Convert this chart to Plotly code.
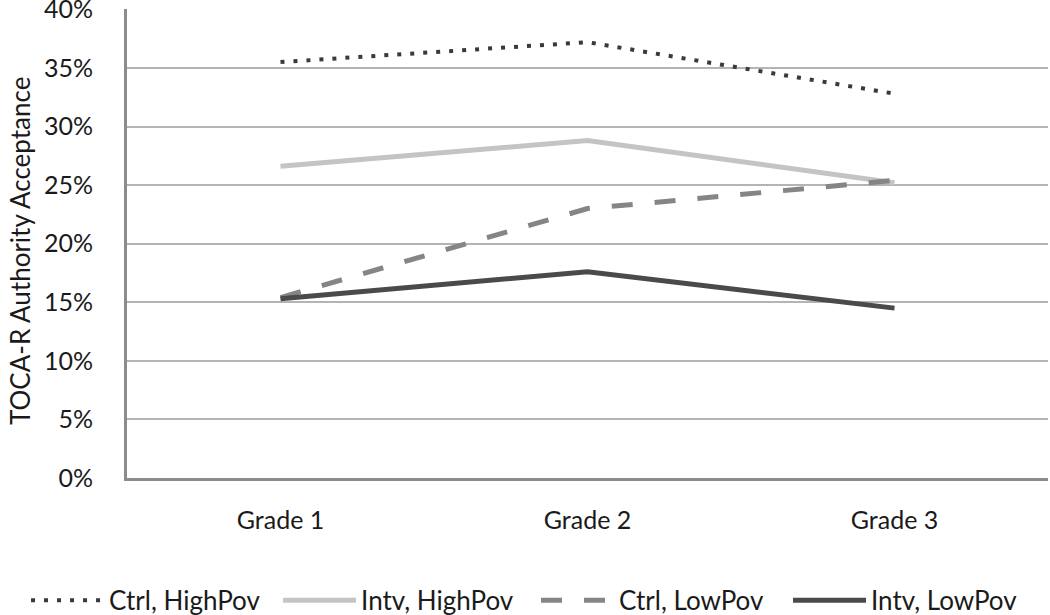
import plotly.graph_objects as go

grades = ["Grade 1", "Grade 2", "Grade 3"]
ctrl_high = [0.355, 0.372, 0.328]
intv_high = [0.266, 0.288, 0.252]
ctrl_low = [0.154, 0.230, 0.254]
intv_low = [0.153, 0.176, 0.145]
y_ticks = [0, 0.05, 0.10, 0.15, 0.20, 0.25, 0.30, 0.35, 0.40]

fig = go.Figure()
fig.add_trace(go.Scatter(x=grades, y=ctrl_high, name="Ctrl, HighPov", mode="lines",
                         legend="legend",
                         line=dict(color="#3a3a3a", width=4, dash="4px,9px")))
fig.add_trace(go.Scatter(x=grades, y=intv_high, name="Intv, HighPov", mode="lines",
                         legend="legend",
                         line=dict(color="#c4c4c4", width=5)))
fig.add_trace(go.Scatter(x=grades, y=ctrl_low, name="Ctrl, LowPov", mode="lines",
                         legend="legend2",
                         line=dict(color="#858585", width=5, dash="21px,22px")))
fig.add_trace(go.Scatter(x=grades, y=intv_low, name="Intv, LowPov", mode="lines",
                         legend="legend2",
                         line=dict(color="#4a4a4a", width=5)))

font_family = "Lato, 'Open Sans', sans-serif"
legend_common = dict(orientation="h", xref="container", xanchor="left",
                     yref="container", y=0.024, yanchor="middle",
                     font=dict(size=26), itemwidth=73, entrywidth=164,
                     entrywidthmode="pixels", tracegroupgap=0)
fig.update_layout(
    width=1050, height=615,
    margin=dict(l=127, r=2, t=9, b=137, autoexpand=False),
    plot_bgcolor="white", paper_bgcolor="white",
    font=dict(family=font_family, color="#1a1a1a", size=25),
    showlegend=True,
    legend=dict(x=0.0248, **legend_common),
    legend2=dict(x=0.5105, **legend_common),
    xaxis=dict(showgrid=False, showline=True, linecolor="#8c8c8c", linewidth=3,
               ticks="", tickfont=dict(size=25), ticklabelstandoff=18,
               range=[-0.5, 2.5], automargin=False),
    yaxis=dict(range=[0, 0.4003], tickvals=y_ticks, tickformat=".0%",
               showgrid=True, gridcolor="#b4b4b4", gridwidth=2,
               showline=True, linecolor="#8c8c8c", linewidth=3,
               zeroline=False, ticks="", ticklabelstandoff=26, automargin=False,
               ticklabeloverflow="allow", tickfont=dict(size=25)),
    annotations=[dict(text="TOCA-R Authority Acceptance", textangle=-90,
                      xref="paper", yref="paper", x=-0.1162, y=0.484,
                      xanchor="center", yanchor="middle", showarrow=False,
                      font=dict(size=26))],
)

fig.write_html("out.html", post_script="document.body.style.margin='0';",
               config={"displayModeBar": False})
